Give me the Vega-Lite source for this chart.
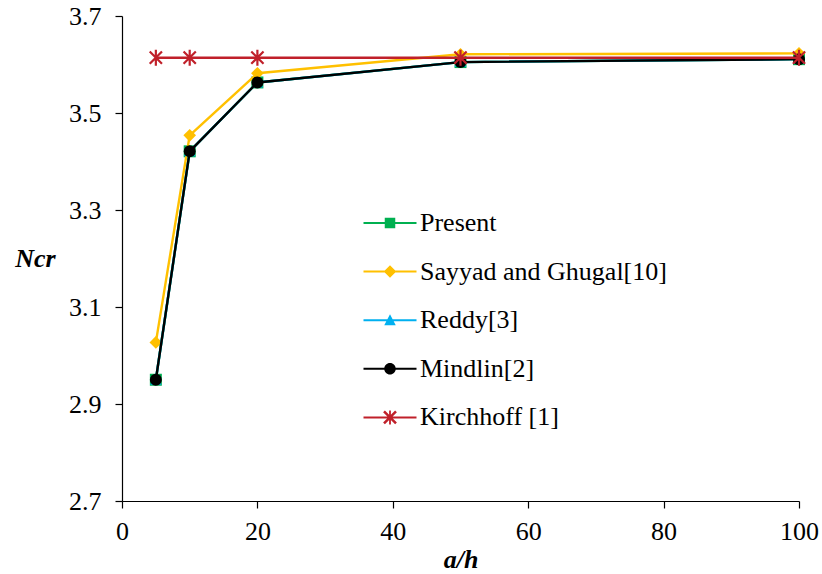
{
  "$schema": "https://vega.github.io/schema/vega-lite/v6.json",
  "width": 677,
  "height": 485,
  "autosize": {"type": "none"},
  "padding": {"left": 122, "top": 16, "right": 23, "bottom": 73},
  "background": "white",
  "config": {
    "view": {"stroke": null},
    "font": "Liberation Serif",
    "axis": {"grid": false, "domainColor": "#000000", "tickColor": "#000000", "labelColor": "#000000", "titleColor": "#000000", "labelFont": "Liberation Serif", "titleFont": "Liberation Serif", "labelFontSize": 26, "titleFontSize": 26, "tickSize": 7, "domainWidth": 1.2, "tickWidth": 1.2},
    "legend": {"labelFont": "Liberation Serif"}
  },
  "data": {
    "values": [
      {"a_h": 5, "Ncr": 2.950, "series": "Present"},
      {"a_h": 10, "Ncr": 3.421, "series": "Present"},
      {"a_h": 20, "Ncr": 3.563, "series": "Present"},
      {"a_h": 50, "Ncr": 3.605, "series": "Present"},
      {"a_h": 100, "Ncr": 3.611, "series": "Present"},
      {"a_h": 5, "Ncr": 3.027, "series": "Sayyad and Ghugal[10]"},
      {"a_h": 10, "Ncr": 3.454, "series": "Sayyad and Ghugal[10]"},
      {"a_h": 20, "Ncr": 3.582, "series": "Sayyad and Ghugal[10]"},
      {"a_h": 50, "Ncr": 3.621, "series": "Sayyad and Ghugal[10]"},
      {"a_h": 100, "Ncr": 3.623, "series": "Sayyad and Ghugal[10]"},
      {"a_h": 5, "Ncr": 2.950, "series": "Reddy[3]"},
      {"a_h": 10, "Ncr": 3.421, "series": "Reddy[3]"},
      {"a_h": 20, "Ncr": 3.563, "series": "Reddy[3]"},
      {"a_h": 50, "Ncr": 3.605, "series": "Reddy[3]"},
      {"a_h": 100, "Ncr": 3.611, "series": "Reddy[3]"},
      {"a_h": 5, "Ncr": 2.950, "series": "Mindlin[2]"},
      {"a_h": 10, "Ncr": 3.421, "series": "Mindlin[2]"},
      {"a_h": 20, "Ncr": 3.563, "series": "Mindlin[2]"},
      {"a_h": 50, "Ncr": 3.605, "series": "Mindlin[2]"},
      {"a_h": 100, "Ncr": 3.611, "series": "Mindlin[2]"},
      {"a_h": 5, "Ncr": 3.614, "series": "Kirchhoff [1]"},
      {"a_h": 10, "Ncr": 3.614, "series": "Kirchhoff [1]"},
      {"a_h": 20, "Ncr": 3.614, "series": "Kirchhoff [1]"},
      {"a_h": 50, "Ncr": 3.614, "series": "Kirchhoff [1]"},
      {"a_h": 100, "Ncr": 3.614, "series": "Kirchhoff [1]"}
    ]
  },
  "encoding": {
    "x": {"field": "a_h", "type": "quantitative", "scale": {"domain": [0, 100], "nice": false}, "axis": {"values": [0, 20, 40, 60, 80, 100], "title": "a/h", "titleFontStyle": "italic", "titleFontWeight": "bold", "labelPadding": 10, "titleBaseline": "alphabetic", "titleY": 66, "labelFlush": false}},
    "y": {"field": "Ncr", "type": "quantitative", "scale": {"domain": [2.7, 3.7], "nice": false, "zero": false}, "axis": {"values": [2.7, 2.9, 3.1, 3.3, 3.5, 3.7], "format": ".1f", "title": "Ncr", "titleFontStyle": "italic", "titleFontWeight": "bold", "titleAngle": 0, "titleAlign": "center", "titleBaseline": "alphabetic", "titleX": -87, "titleY": 250, "labelPadding": 14}}
  },
  "layer": [
    {"transform": [{"filter": "datum.series === 'Present'"}], "mark": {"type": "line", "strokeWidth": 2.4, "color": "#00B050"}, "encoding": {}},
    {"transform": [{"filter": "datum.series === 'Present'"}], "mark": {"type": "point", "shape": "square", "filled": true, "size": 144, "color": "#00B050", "opacity": 1}, "encoding": {}},
    {"transform": [{"filter": "datum.series === 'Sayyad and Ghugal[10]'"}], "mark": {"type": "line", "strokeWidth": 2.4, "color": "#FFC000"}, "encoding": {}},
    {"transform": [{"filter": "datum.series === 'Sayyad and Ghugal[10]'"}], "mark": {"type": "point", "shape": "diamond", "filled": true, "size": 160, "color": "#FFC000", "opacity": 1}, "encoding": {}},
    {"transform": [{"filter": "datum.series === 'Reddy[3]'"}], "mark": {"type": "line", "strokeWidth": 2.4, "color": "#00B0F0"}, "encoding": {}},
    {"transform": [{"filter": "datum.series === 'Reddy[3]'"}], "mark": {"type": "point", "shape": "triangle-up", "filled": true, "size": 130, "color": "#00B0F0", "opacity": 1}, "encoding": {}},
    {"transform": [{"filter": "datum.series === 'Mindlin[2]'"}], "mark": {"type": "line", "strokeWidth": 2.4, "color": "#000000"}, "encoding": {}},
    {"transform": [{"filter": "datum.series === 'Mindlin[2]'"}], "mark": {"type": "point", "shape": "circle", "filled": true, "size": 144, "color": "#000000", "opacity": 1}, "encoding": {}},
    {"transform": [{"filter": "datum.series === 'Kirchhoff [1]'"}], "mark": {"type": "line", "strokeWidth": 2.4, "color": "#C0202A"}, "encoding": {}},
    {"transform": [{"filter": "datum.series === 'Kirchhoff [1]'"}], "mark": {"type": "point", "shape": "M-1,-1L1,1M-1,1L1,-1M0,-1.3V1.3", "filled": false, "size": 150, "strokeWidth": 2.2, "color": "#C0202A", "opacity": 1}, "encoding": {}},
    {
      "transform": [{"filter": "datum.a_h < 0"}],
      "mark": {"type": "point", "filled": true, "opacity": 1},
      "encoding": {
        "color": {"field": "series", "type": "nominal", "scale": {"domain": ["Present", "Sayyad and Ghugal[10]", "Reddy[3]", "Mindlin[2]", "Kirchhoff [1]"], "range": ["#00B050", "#FFC000", "#00B0F0", "#000000", "#C0202A"]},
          "legend": {
            "title": null, "orient": "none", "legendX": 255, "legendY": 194, "padding": 0,
            "labelFont": "Liberation Serif", "labelFontSize": 26, "labelColor": "#000000", "labelOffset": 17, "rowPadding": 22.6, "symbolSize": 100, "symbolStrokeWidth": 0, "symbolOpacity": 1, "labelLimit": 400
          }},
        "shape": {"field": "series", "type": "nominal", "scale": {"domain": ["Present", "Sayyad and Ghugal[10]", "Reddy[3]", "Mindlin[2]", "Kirchhoff [1]"], "range": [
          "M-5.3,-0.2H5.3V0.2H-5.3ZM-1.05,-1.05H1.05V1.05H-1.05Z",
          "M-5.3,-0.2H5.3V0.2H-5.3ZM0,-1.25L1.25,0L0,1.25L-1.25,0Z",
          "M-5.3,-0.2H5.3V0.2H-5.3ZM0,-1.2L1.15,1H-1.15Z",
          "M-5.3,-0.2H5.3V0.2H-5.3ZM-1.15,0A1.15,1.15,0,1,1,1.15,0A1.15,1.15,0,1,1,-1.15,0Z",
          "M-5.3,-0.2H5.3V0.2H-5.3ZM-1.02,-1.38L1.38,1.02L1.02,1.38L-1.38,-1.02ZM-1.38,1.02L1.02,-1.38L1.38,-1.02L-1.02,1.38ZM-0.18,-1.4H0.18V1.4H-0.18Z"
        ]}}
      }
    }
  ]
}
